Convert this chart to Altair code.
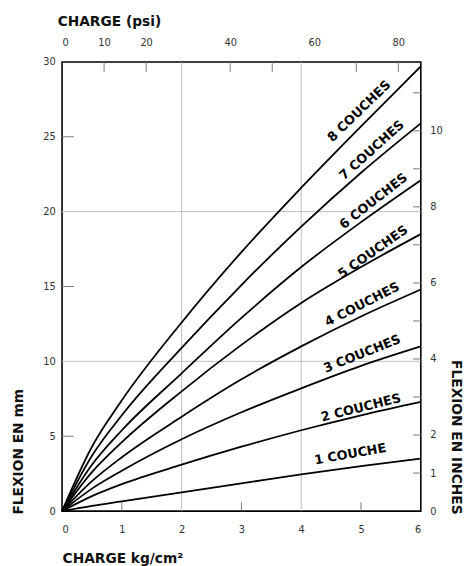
import altair as alt
import pandas as pd

# ---- data ----
load_kg = [0, 0.5, 1, 2, 3, 4, 5, 6]
c1 = [0, 0.35, 0.65, 1.25, 1.85, 2.45, 3.0, 3.5]
c2 = [0, 1.0, 1.8, 3.1, 4.3, 5.4, 6.4, 7.3]
c3 = [0, 1.5, 2.7, 4.8, 6.6, 8.2, 9.7, 11.0]
c4 = [0, 2.0, 3.6, 6.3, 8.8, 11.0, 13.0, 14.8]
c5 = [0, 2.6, 4.6, 8.0, 11.1, 13.9, 16.3, 18.5]
c6 = [0, 3.1, 5.4, 9.2, 12.9, 16.3, 19.3, 22.1]
c7 = [0, 3.7, 6.4, 10.9, 15.1, 19.0, 22.6, 25.9]
c8 = [0, 4.3, 7.4, 12.6, 17.3, 21.6, 25.7, 29.7]
curves = [c1, c2, c3, c4, c5, c6, c7, c8]

layer_names = ["1 COUCHE", "2 COUCHES", "3 COUCHES", "4 COUCHES",
               "5 COUCHES", "6 COUCHES", "7 COUCHES", "8 COUCHES"]
label_x = [4.82, 5.0, 5.02, 5.02, 5.2, 5.21, 5.18, 4.97]
label_y = [3.8, 6.9, 10.5, 13.8, 17.3, 20.7, 24.1, 26.7]
label_angle = [350, 346, 338, 333, 325, 322, 318, 316]

kg_labels = [0, 1, 2, 3, 4, 5, 6]
kg_minor = [1, 3, 5]
mm_labels = [0, 5, 10, 15, 20, 25, 30]
mm_minor = [5, 15, 25]
grid_kg = [2, 4]
grid_mm = [10, 20]
psi_labels = [0, 10, 20, 40, 60, 80]
psi_minor = [10, 20, 40, 50, 70, 80]
psi_max = 6 * 14.223
inch_labels = [0, 1, 2, 4, 6, 8, 10]
inch_minor = [1, 2, 3, 4, 5, 6, 7, 8, 9, 10, 11]
inch_max = 30 / 2.54

W, H = 365, 457
FONT = "DejaVu Sans"

rows = []
for name, ys in zip(layer_names, curves):
    for x, y in zip(load_kg, ys):
        rows.append({"couches": name, "kg": x, "mm": y})
df = pd.DataFrame(rows)
lab_df = pd.DataFrame({"txt": layer_names, "kg": label_x, "mm": label_y, "ang": label_angle})

xs = alt.Scale(domain=[0, 6], nice=False, zero=False)
ys = alt.Scale(domain=[0, 30], nice=False, zero=False)
x_axis = alt.Axis(orient="bottom", values=kg_labels, format="d", title="CHARGE kg/cm²",
                  titleX=0, titleY=48, titleAlign="left", titleBaseline="middle",
                  titleAngle=0, labelPadding=14)
y_axis = alt.Axis(orient="left", values=mm_labels, format="d", title="FLEXION EN mm",
                  titleX=-44, titleY=H + 3, titleAngle=270, titleAlign="left",
                  titleBaseline="middle", labelPadding=7)

grid_v = alt.Chart(pd.DataFrame({"kg": grid_kg})).mark_rule(color="#bdbdbd", strokeWidth=1).encode(
    x=alt.X("kg:Q", scale=xs, axis=x_axis))
grid_h = alt.Chart(pd.DataFrame({"mm": grid_mm})).mark_rule(color="#bdbdbd", strokeWidth=1).encode(
    y=alt.Y("mm:Q", scale=ys, axis=y_axis))
tick_b = alt.Chart(pd.DataFrame({"kg": kg_minor})).mark_rule(color="#777", strokeWidth=1).encode(
    x=alt.X("kg:Q", scale=xs, axis=x_axis), y=alt.value(H), y2=alt.value(H - 9))
tick_l = alt.Chart(pd.DataFrame({"mm": mm_minor})).mark_rule(color="#777", strokeWidth=1).encode(
    y=alt.Y("mm:Q", scale=ys, axis=y_axis), x=alt.value(0), x2=alt.value(12))
lines = alt.Chart(df).mark_line(color="black", strokeWidth=1.8, interpolate="monotone").encode(
    x=alt.X("kg:Q", scale=xs, axis=x_axis),
    y=alt.Y("mm:Q", scale=ys, axis=y_axis),
    detail="couches:N")
labels = alt.Chart(lab_df).mark_text(font=FONT, fontSize=13, fontWeight="bold", color="black",
                                     align="center", baseline="middle").encode(
    x=alt.X("kg:Q", scale=xs, axis=x_axis),
    y=alt.Y("mm:Q", scale=ys, axis=y_axis),
    text="txt:N",
    angle=alt.Angle("ang:Q", scale=None))
main = alt.layer(grid_v, grid_h, tick_b, tick_l, lines, labels)

top = alt.Chart(pd.DataFrame({"psi": psi_minor})).mark_rule(color="#777", strokeWidth=1).encode(
    x=alt.X("psi:Q", scale=alt.Scale(domain=[0, psi_max], nice=False, zero=False),
            axis=alt.Axis(orient="top", values=psi_labels, format="d", title="CHARGE (psi)",
                          titleX=-5, titleY=-41, titleAlign="left", titleBaseline="middle",
                          titleAngle=0, labelPadding=15)),
    y=alt.value(0), y2=alt.value(10))

right = alt.Chart(pd.DataFrame({"inch": inch_minor})).mark_rule(color="#777", strokeWidth=1).encode(
    y=alt.Y("inch:Q", scale=alt.Scale(domain=[0, inch_max], nice=False, zero=False),
            axis=alt.Axis(orient="right", values=inch_labels, format="d", title="FLEXION EN INCHES",
                          titleX=35, titleY=H + 3, titleAngle=90, titleAlign="right",
                          titleBaseline="middle", labelPadding=9)),
    x=alt.value(W), x2=alt.value(W - 8))

chart = alt.layer(main, top, right).resolve_scale(x="independent", y="independent").properties(
    width=W, height=H,
    autosize="none",
    padding={"left": 55, "top": 50, "right": 47, "bottom": 51},
    background="white",
).configure_view(stroke="black", strokeWidth=1.6).configure_axis(
    domain=False, ticks=False, grid=False,
    labelFont=FONT, labelFontSize=10, labelColor="#333",
    titleFont=FONT, titleFontSize=14, titleFontWeight="bold", titleColor="#111",
)

chart.save("out.html", embed_options={"renderer": "svg", "actions": False})
